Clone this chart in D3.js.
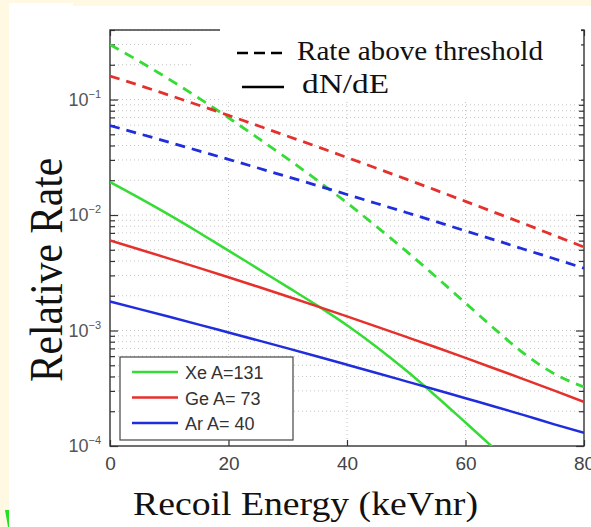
<!DOCTYPE html>
<html>
<head>
<meta charset="utf-8">
<script src="https://cdn.jsdelivr.net/npm/d3@7"></script>
<style>
  html, body { margin: 0; padding: 0; background: #fff9e3; }
  svg { display: block; }
  text { white-space: pre; }
</style>
</head>
<body>
<svg id="chart" width="591" height="527"></svg>
<script>
// ---------------- data ----------------
const energies = [0, 5, 10, 15, 20, 25, 30, 35, 40, 45, 50, 55, 60, 65, 70, 75, 80];
const energiesXe = [0, 5, 10, 15, 20, 25, 30, 35, 40, 45, 50, 55, 60, 65, 70];

// Rate above threshold (dashed)
const xeRateAbove = [0.2985, 0.2138, 0.1496, 0.1028, 0.0695, 0.04634, 0.03062, 0.01995, 0.01274, 0.00794, 0.004864, 0.002924, 0.00173, 0.001023, 0.000624, 0.000422, 0.000324];
const geRateAbove = [0.1598, 0.1324, 0.1090, 0.0893, 0.0729, 0.0593, 0.0481, 0.0390, 0.0315, 0.0254, 0.02044, 0.01641, 0.01313, 0.0105, 0.00837, 0.00665, 0.00528];
const arRateAbove = [0.0595, 0.05044, 0.04265, 0.03596, 0.03033, 0.02552, 0.02143, 0.01798, 0.01506, 0.01259, 0.01052, 0.00877, 0.00729, 0.00607, 0.00503, 0.00418, 0.00346];

// dN/dE (solid)
const xeDNdE = [0.0193, 0.0140, 0.01002, 0.00706, 0.00492, 0.00342, 0.002377, 0.001644, 0.001112, 0.000721, 0.00045, 0.000271, 0.0001596, 0.0000935, 0.0000548];
const geDNdE = [0.006013, 0.00503, 0.004195, 0.003488, 0.002891, 0.00239, 0.001969, 0.001618, 0.001325, 0.001082, 0.000881, 0.000716, 0.000579, 0.000467, 0.000376, 0.000302, 0.000241];
const arDNdE = [0.001782, 0.001532, 0.001314, 0.001125, 0.000961, 0.000821, 0.0007, 0.000596, 0.000506, 0.000429, 0.000363, 0.000307, 0.000259, 0.000219, 0.000184, 0.000154, 0.00013];

const seriesNames = ["Xe A=131", "Ge A= 73", "Ar A= 40"];
const xTickValues = [0, 20, 40, 60, 80];
const yMajorExponents = [-4, -3, -2, -1];
const xLabel = "Recoil Energy (keVnr)";
const yLabel = "Relative Rate";
const styleLegend = ["Rate above threshold", "dN/dE"];

// ---------------- layout ----------------
const svg = d3.select("#chart");
const L = 110, R = 584, T = 30, B = 446;
const colors = ["#35dc35", "#e5302c", "#1f2ddc"];

const x = d3.scaleLinear().domain([0, 80]).range([L, R]);
const y = d3.scaleLog().domain([1e-4, 0.4]).range([B, T]);

// backgrounds
svg.append("rect").attr("x", 0).attr("y", 0).attr("width", 591).attr("height", 527).attr("fill", "#fff9e3");
svg.append("rect").attr("x", 9).attr("y", 6).attr("width", 582).attr("height", 521).attr("fill", "#ffffff");
svg.append("rect").attr("x", 9).attr("y", 3).attr("width", 64).attr("height", 5).attr("fill", "#ffffff");
// small green artifact bottom-left
svg.append("polygon").attr("points", "5,510 9,510 9,527 8,527").attr("fill", "#22e022");

// tick sets
const minorTicks = [];
const allTicks = [];
for (let e = -4; e <= -1; e++) {
  for (let m = 1; m <= 9; m++) {
    const v = m * Math.pow(10, e);
    if (v <= 0.4 + 1e-9) { allTicks.push(v); if (m > 1) minorTicks.push(v); }
  }
}
const majorTicks = yMajorExponents.map(e => Math.pow(10, e));

// grid
const grid = svg.append("g").attr("stroke", "#c4c4c4").attr("stroke-width", 1).attr("stroke-dasharray", "1,3");
grid.selectAll("line.h").data(allTicks.filter(v => v > 1e-4)).enter().append("line")
  .attr("x1", L).attr("x2", R).attr("y1", d => y(d)).attr("y2", d => y(d));
grid.selectAll("line.v").data([20, 40, 60]).enter().append("line")
  .attr("x1", d => x(d)).attr("x2", d => x(d)).attr("y1", T).attr("y2", B);

// axes
function styleAxis(g) {
  g.select(".domain").remove();
  g.selectAll(".tick line").attr("stroke", "#333").attr("stroke-width", 1.2);
}
svg.append("g").attr("transform", `translate(${L},0)`)
  .call(d3.axisLeft(y).tickValues(minorTicks).tickSize(-5).tickFormat("")).call(styleAxis);
svg.append("g").attr("transform", `translate(${L},0)`)
  .call(d3.axisLeft(y).tickValues(majorTicks).tickSize(-8).tickFormat("")).call(styleAxis);
svg.append("g").attr("transform", `translate(${R},0)`)
  .call(d3.axisRight(y).tickValues(minorTicks).tickSize(-5).tickFormat("")).call(styleAxis);
svg.append("g").attr("transform", `translate(${R},0)`)
  .call(d3.axisRight(y).tickValues(majorTicks).tickSize(-8).tickFormat("")).call(styleAxis);
svg.append("g").attr("transform", `translate(0,${T})`)
  .call(d3.axisTop(x).tickValues(xTickValues).tickSize(-6).tickFormat("")).call(styleAxis);

// x axis labels
const xAxisG = svg.append("g").attr("transform", `translate(0,${B})`)
  .call(d3.axisBottom(x).tickValues(xTickValues).tickSize(-6).tickPadding(11).tickFormat(d3.format("d")));
styleAxis(xAxisG);
xAxisG.selectAll(".tick text").attr("font-family", "Liberation Sans, Arial, sans-serif")
  .attr("font-size", 19).attr("fill", "#444");

// y axis labels with superscripts
const yLab = svg.append("g").attr("transform", `translate(${L},0)`)
  .call(d3.axisLeft(y).tickValues(majorTicks).tickSize(0).tickPadding(9).tickFormat(""));
yLab.select(".domain").remove();
yLab.selectAll(".tick text").each(function(d) {
  const t = d3.select(this).attr("font-family", "Liberation Sans, Arial, sans-serif")
    .attr("fill", "#555").attr("font-size", 18);
  t.append("tspan").text("10");
  t.append("tspan").attr("font-size", 11).attr("dy", "-0.75em").text("\u2212" + Math.abs(Math.round(Math.log10(d))));
});

// frame
svg.append("rect").attr("x", L).attr("y", T).attr("width", R - L).attr("height", B - T)
  .attr("fill", "none").attr("stroke", "#333").attr("stroke-width", 1.4);

// white box behind style legend
svg.append("rect").attr("x", 220).attr("y", 6).attr("width", 361).attr("height", 95).attr("fill", "#ffffff");
svg.append("rect").attr("x", 192).attr("y", 32).attr("width", 30).attr("height", 64).attr("fill", "#ffffff");

// curves
const clip = svg.append("clipPath").attr("id", "plotclip");
clip.append("rect").attr("x", L).attr("y", T).attr("width", R - L).attr("height", B - T);
const plot = svg.append("g").attr("clip-path", "url(#plotclip)");

const line = d3.line().x(d => x(d[0])).y(d => y(d[1])).curve(d3.curveMonotoneX);

const dashed = [xeRateAbove, geRateAbove, arRateAbove];
const solid = [
  d3.zip(energiesXe, xeDNdE),
  d3.zip(energies, geDNdE),
  d3.zip(energies, arDNdE)
];
dashed.forEach((vals, i) => {
  plot.append("path").datum(d3.zip(energies, vals)).attr("d", line)
    .attr("fill", "none").attr("stroke", colors[i]).attr("stroke-width", 2.8)
    .attr("stroke-dasharray", "10,7");
});
solid.forEach((pts, i) => {
  plot.append("path").datum(pts).attr("d", line)
    .attr("fill", "none").attr("stroke", colors[i]).attr("stroke-width", 2.5);
});

// series legend
const lg = svg.append("g");
lg.append("rect").attr("x", 120).attr("y", 357).attr("width", 173).attr("height", 83)
  .attr("fill", "#ffffff").attr("stroke", "#444").attr("stroke-width", 1.2);
seriesNames.forEach((name, i) => {
  const yy = 372 + i * 25.5;
  lg.append("line").attr("x1", 132).attr("x2", 178).attr("y1", yy).attr("y2", yy)
    .attr("stroke", colors[i]).attr("stroke-width", 2.5);
  lg.append("text").attr("x", 185).attr("y", yy + 7)
    .attr("font-family", "Liberation Sans, Arial, sans-serif").attr("font-size", 18)
    .attr("fill", "#333").text(name);
});

// style legend
svg.append("line").attr("x1", 237).attr("x2", 282).attr("y1", 53).attr("y2", 53)
  .attr("stroke", "#000").attr("stroke-width", 2.5).attr("stroke-dasharray", "11,6");
svg.append("line").attr("x1", 242).attr("x2", 284).attr("y1", 87).attr("y2", 87)
  .attr("stroke", "#000").attr("stroke-width", 2.5);
svg.append("text").attr("x", 297).attr("y", 60)
  .attr("font-family", "Liberation Serif, Times New Roman, serif").attr("font-size", 27)
  .attr("textLength", 246).attr("lengthAdjust", "spacingAndGlyphs").attr("fill", "#111").text(styleLegend[0]);
svg.append("text").attr("x", 302).attr("y", 93)
  .attr("font-family", "Liberation Serif, Times New Roman, serif").attr("font-size", 27)
  .attr("textLength", 87).attr("lengthAdjust", "spacingAndGlyphs").attr("fill", "#111").text(styleLegend[1]);

// axis titles
svg.append("text").attr("x", 133).attr("y", 515)
  .attr("font-family", "Liberation Serif, Times New Roman, serif").attr("font-size", 33)
  .attr("textLength", 345).attr("lengthAdjust", "spacingAndGlyphs").attr("fill", "#111").text(xLabel);
svg.append("text").attr("transform", "translate(62,270) scale(1.14,1) rotate(-90)")
  .attr("text-anchor", "middle")
  .attr("font-family", "Liberation Serif, Times New Roman, serif").attr("font-size", 41)
  .attr("textLength", 224).attr("lengthAdjust", "spacingAndGlyphs").attr("fill", "#111").text(yLabel);
</script>
</body>
</html>
